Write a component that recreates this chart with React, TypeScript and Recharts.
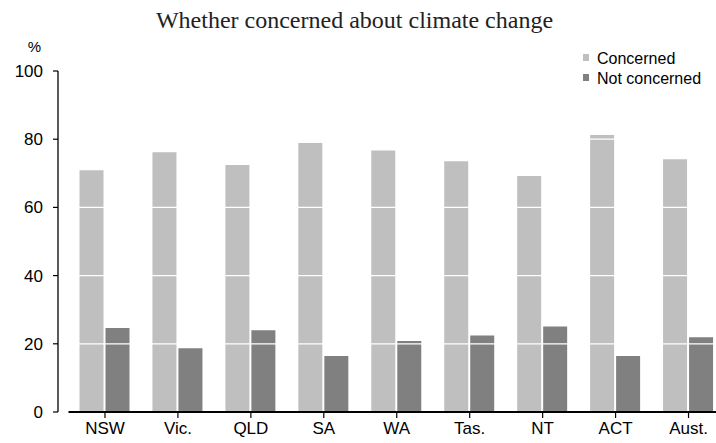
import { BarChart, Bar, XAxis, YAxis, ReferenceLine } from 'recharts';

const states = ['NSW', 'Vic.', 'QLD', 'SA', 'WA', 'Tas.', 'NT', 'ACT', 'Aust.'];
const concerned = [70.9, 76.2, 72.4, 78.9, 76.7, 73.5, 69.2, 81.2, 74.1];
const notConcerned = [24.6, 18.7, 24.0, 16.4, 20.8, 22.4, 25.1, 16.4, 21.9];
const yTicks = [0, 20, 40, 60, 80, 100];
const gridLines = [20, 40, 60, 80];

const LIGHT = '#bfbfbf';
const DARK = '#808080';
const SANS = '"Liberation Sans", Arial, sans-serif';
const SERIF = '"Liberation Serif", "Times New Roman", serif';

const rows = states.map((state, i) => ({
  state,
  concerned: concerned[i],
  notConcerned: notConcerned[i],
}));

export default function App() {
  return (
    <div
      style={{
        position: 'absolute',
        left: 0,
        top: 0,
        width: 716,
        height: 443,
        overflow: 'hidden',
        background: '#fff',
      }}
    >
      <BarChart
        width={725}
        height={443}
        data={rows}
        margin={{ top: 71, right: 0, bottom: 0, left: 0 }}
        barSize={24}
        barGap={2}
      >
        <XAxis
          dataKey="state"
          interval={0}
          height={31}
          padding={{ left: 10.5, right: 0 }}
          tickSize={6}
          tickMargin={4}
          tickLine={{ stroke: '#000', strokeWidth: 1.2 }}
          axisLine={{ stroke: '#000', strokeWidth: 2, strokeDasharray: '0 10.5 2000' }}
          tick={{ fill: '#000', fontSize: 17, fontFamily: SANS }}
        />
        <YAxis
          width={58}
          domain={[0, 100]}
          ticks={yTicks}
          interval={0}
          tickSize={5}
          tickMargin={10}
          tickLine={{ stroke: '#000', strokeWidth: 1.2 }}
          axisLine={{ stroke: '#000', strokeWidth: 1.3 }}
          tick={{ fill: '#000', fontSize: 17, fontFamily: SANS }}
        />
        <Bar dataKey="concerned" fill={LIGHT} isAnimationActive={false} />
        <Bar dataKey="notConcerned" fill={DARK} isAnimationActive={false} />
        {gridLines.map((v) => (
          <ReferenceLine key={v} y={v} stroke="#fff" strokeWidth={1.2} />
        ))}
      </BarChart>
      <svg
        width={716}
        height={443}
        style={{ position: 'absolute', left: 0, top: 0, pointerEvents: 'none' }}
      >
        <text x={354.5} y={28} textAnchor="middle" fontFamily={SERIF} fontSize={24} fill="#222">
          Whether concerned about climate change
        </text>
        <text x={34.5} y={52} textAnchor="middle" fontFamily={SANS} fontSize={15} fill="#000">
          %
        </text>
        <rect x={583} y={54} width={6} height={7} fill={LIGHT} />
        <text x={597} y={64} fontFamily={SANS} fontSize={16} fill="#000">
          Concerned
        </text>
        <rect x={583} y={74} width={6} height={7} fill={DARK} />
        <text x={597} y={84} fontFamily={SANS} fontSize={16} fill="#000">
          Not concerned
        </text>
      </svg>
    </div>
  );
}
